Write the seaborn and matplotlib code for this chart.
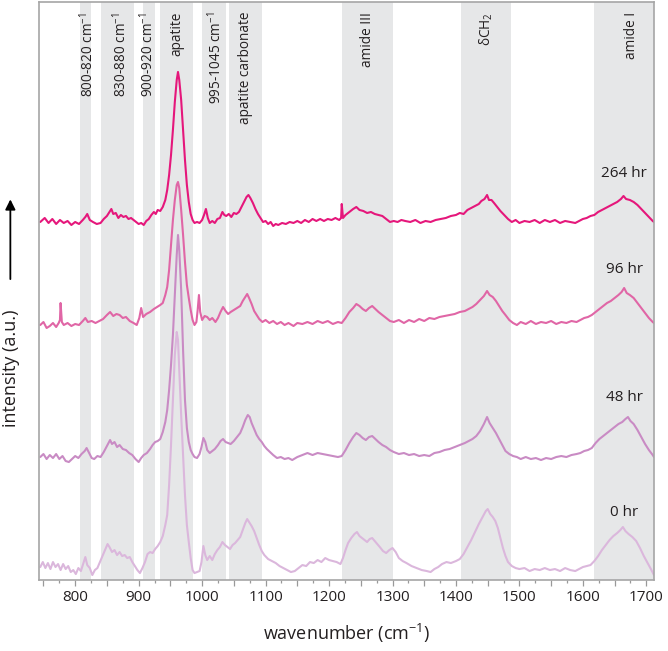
import numpy as np
import pandas as pd
import matplotlib
matplotlib.use("Agg")
import matplotlib.pyplot as plt
import seaborn as sns
from matplotlib.ticker import MultipleLocator, FuncFormatter

# -----------------------------
# Style
# -----------------------------
sns.set_style("white")
plt.rcParams["font.family"] = ["Open Sans", "DejaVu Sans"]
plt.rcParams["mathtext.fontset"] = "custom"
plt.rcParams["mathtext.rm"] = "Open Sans"
plt.rcParams["mathtext.it"] = "Open Sans:italic"
plt.rcParams["mathtext.bf"] = "Open Sans:bold"

# -----------------------------
# Data: (wavenumber, offset intensity)
# -----------------------------
spec_264 = [
    (745, 358), (752, 362), (758, 357), (764, 361), (770, 356), (776, 360), (782, 357),
    (788, 359), (794, 355), (800, 358), (806, 356), (812, 360), (816, 363), (819, 366),
    (823, 360), (828, 358), (834, 356), (840, 357), (845, 361), (850, 364), (854, 368),
    (857, 371), (860, 366), (864, 367), (868, 362), (872, 365), (876, 363), (880, 364),
    (884, 361), (888, 362), (892, 360), (896, 358), (900, 356), (904, 357), (908, 355),
    (912, 359), (916, 361), (920, 365), (924, 368), (927, 366), (930, 370), (934, 369),
    (938, 373), (942, 380), (945, 390), (948, 405), (951, 425), (954, 450), (957, 478),
    (960, 500), (962, 508), (964, 500), (967, 480), (970, 450), (973, 420), (976, 395),
    (979, 378), (982, 366), (985, 360), (988, 357), (992, 358), (996, 357), (1000, 360),
    (1003, 365), (1006, 371), (1009, 362), (1012, 357), (1016, 359), (1020, 357),
    (1024, 361), (1028, 362), (1032, 368), (1035, 365), (1038, 364), (1042, 366),
    (1046, 363), (1050, 367), (1054, 366), (1058, 368), (1062, 373), (1066, 378),
    (1070, 383), (1073, 385), (1076, 382), (1080, 377), (1084, 371), (1088, 366),
    (1092, 362), (1096, 358), (1100, 359), (1104, 356), (1108, 358), (1112, 354),
    (1116, 356), (1120, 355), (1126, 357), (1132, 356), (1138, 358), (1144, 357),
    (1150, 359), (1156, 357), (1162, 360), (1168, 358), (1174, 361), (1180, 359),
    (1186, 361), (1192, 359), (1198, 361), (1204, 360), (1210, 362), (1216, 360),
    (1219, 362), (1220, 376), (1222, 362), (1226, 365), (1232, 368), (1238, 371),
    (1243, 373), (1248, 370), (1254, 369), (1260, 367), (1266, 368), (1272, 366),
    (1278, 365), (1284, 364), (1290, 361), (1296, 358), (1302, 359), (1308, 358),
    (1314, 360), (1320, 359), (1328, 358), (1336, 360), (1344, 357), (1352, 359),
    (1360, 358), (1368, 360), (1376, 361), (1384, 362), (1392, 364), (1400, 365),
    (1406, 367), (1412, 366), (1418, 370), (1424, 372), (1430, 374), (1436, 376),
    (1440, 379), (1445, 381), (1449, 385), (1452, 380), (1456, 380), (1460, 377),
    (1465, 373), (1470, 369), (1476, 365), (1482, 361), (1488, 358), (1494, 360),
    (1500, 357), (1508, 359), (1516, 358), (1524, 360), (1532, 357), (1540, 360),
    (1548, 358), (1556, 360), (1564, 357), (1572, 359), (1580, 358), (1588, 357),
    (1594, 359), (1600, 361), (1606, 362), (1612, 364), (1618, 365), (1624, 368),
    (1630, 370), (1636, 372), (1642, 374), (1648, 376), (1654, 378), (1660, 381),
    (1664, 384), (1668, 381), (1674, 380), (1680, 378), (1686, 375), (1692, 371),
    (1698, 367), (1704, 363), (1710, 359), (1712, 358),
]

spec_96 = [
    (745, 255), (750, 258), (755, 252), (760, 254), (765, 257), (770, 253), (774, 257),
    (776, 260), (777, 277), (779, 258), (782, 255), (788, 257), (794, 254), (800, 256),
    (806, 255), (812, 259), (816, 262), (820, 258), (826, 259), (832, 257), (838, 259),
    (844, 261), (850, 265), (855, 268), (860, 264), (865, 266), (870, 265), (875, 262),
    (880, 263), (886, 259), (892, 257), (897, 255), (901, 262), (904, 272), (907, 263),
    (912, 266), (918, 268), (924, 271), (929, 273), (934, 275), (938, 277), (942, 285),
    (945, 293), (948, 310), (951, 335), (954, 360), (957, 380), (960, 395), (962, 398),
    (964, 392), (967, 370), (970, 345), (973, 318), (976, 295), (979, 282), (982, 270),
    (985, 260), (988, 255), (991, 258), (993, 270), (995, 285), (997, 268), (1000, 260),
    (1004, 264), (1008, 263), (1012, 260), (1016, 262), (1021, 258), (1025, 262),
    (1029, 268), (1033, 273), (1037, 269), (1041, 266), (1045, 268), (1050, 270),
    (1055, 272), (1060, 274), (1064, 279), (1068, 283), (1071, 286), (1074, 282),
    (1078, 276), (1082, 269), (1086, 265), (1090, 261), (1095, 258), (1100, 260),
    (1106, 257), (1112, 259), (1118, 256), (1124, 258), (1130, 255), (1136, 257),
    (1144, 254), (1150, 257), (1158, 256), (1166, 258), (1174, 256), (1182, 259),
    (1190, 257), (1198, 259), (1206, 256), (1214, 258), (1220, 257), (1226, 262),
    (1232, 268), (1238, 272), (1243, 276), (1248, 274), (1253, 271), (1258, 269),
    (1263, 272), (1268, 274), (1273, 271), (1278, 268), (1284, 265), (1290, 262),
    (1296, 259), (1302, 258), (1310, 260), (1318, 257), (1326, 260), (1334, 258),
    (1342, 261), (1350, 259), (1358, 262), (1366, 261), (1374, 263), (1382, 264),
    (1390, 265), (1398, 266), (1406, 268), (1414, 269), (1420, 271), (1426, 273),
    (1432, 276), (1438, 280), (1444, 284), (1449, 289), (1453, 285), (1458, 283),
    (1463, 279), (1468, 274), (1473, 269), (1478, 265), (1484, 260), (1490, 257),
    (1496, 255), (1502, 258), (1510, 256), (1518, 259), (1526, 256), (1534, 258),
    (1542, 257), (1550, 259), (1558, 256), (1566, 258), (1574, 257), (1582, 259),
    (1590, 258), (1596, 260), (1602, 262), (1608, 263), (1614, 265), (1620, 268),
    (1626, 271), (1632, 274), (1638, 277), (1644, 279), (1650, 282), (1656, 285),
    (1661, 288), (1665, 292), (1669, 287), (1674, 285), (1680, 282), (1686, 277),
    (1692, 272), (1698, 267), (1704, 262), (1710, 258), (1712, 257),
]

spec_48 = [
    (745, 123), (750, 126), (755, 121), (760, 125), (765, 122), (770, 126), (775, 121),
    (780, 124), (785, 119), (790, 118), (795, 121), (800, 124), (805, 122), (810, 126),
    (815, 129), (818, 132), (822, 127), (826, 122), (830, 121), (835, 124), (840, 123),
    (845, 128), (850, 134), (855, 140), (858, 136), (862, 138), (866, 133), (870, 135),
    (875, 131), (880, 130), (885, 127), (890, 125), (895, 121), (900, 118), (904, 122),
    (908, 125), (913, 127), (918, 131), (922, 135), (926, 138), (930, 139), (934, 141),
    (938, 148), (942, 158), (945, 170), (948, 190), (951, 215), (954, 245), (957, 285),
    (960, 325), (962, 345), (964, 330), (967, 290), (970, 230), (973, 180), (976, 152),
    (979, 138), (982, 130), (985, 126), (988, 123), (992, 122), (996, 126), (999, 133),
    (1002, 142), (1005, 138), (1008, 130), (1012, 127), (1016, 129), (1020, 131),
    (1025, 135), (1029, 139), (1033, 141), (1037, 138), (1041, 137), (1045, 136),
    (1050, 139), (1055, 143), (1060, 147), (1064, 153), (1068, 160), (1072, 165),
    (1075, 163), (1078, 157), (1082, 151), (1086, 145), (1090, 141), (1094, 138),
    (1098, 134), (1102, 131), (1107, 128), (1112, 125), (1118, 122), (1124, 123),
    (1130, 121), (1136, 122), (1142, 120), (1150, 123), (1158, 125), (1166, 127),
    (1174, 125), (1182, 127), (1190, 126), (1198, 125), (1206, 124), (1214, 123),
    (1220, 124), (1226, 130), (1232, 137), (1238, 143), (1243, 147), (1248, 145),
    (1253, 142), (1258, 140), (1263, 143), (1268, 144), (1273, 141), (1278, 138),
    (1284, 135), (1290, 133), (1296, 130), (1302, 128), (1310, 126), (1318, 127),
    (1326, 125), (1334, 126), (1342, 124), (1350, 125), (1358, 124), (1366, 127),
    (1374, 128), (1382, 130), (1390, 131), (1398, 133), (1406, 135), (1414, 137),
    (1420, 139), (1426, 141), (1432, 144), (1438, 149), (1444, 156), (1449, 163),
    (1453, 157), (1458, 152), (1463, 147), (1468, 141), (1473, 135), (1478, 129),
    (1484, 126), (1490, 124), (1496, 123), (1502, 121), (1510, 123), (1518, 121),
    (1526, 122), (1534, 120), (1542, 122), (1550, 121), (1558, 123), (1566, 124),
    (1574, 123), (1582, 125), (1590, 126), (1596, 127), (1602, 129), (1608, 130),
    (1614, 132), (1620, 137), (1626, 141), (1632, 144), (1638, 147), (1644, 150),
    (1650, 153), (1656, 156), (1662, 158), (1667, 161), (1671, 163), (1675, 159),
    (1680, 156), (1686, 150), (1692, 143), (1698, 136), (1704, 130), (1710, 125),
    (1712, 123),
]

spec_0 = [
    (745, 13), (749, 18), (753, 12), (757, 17), (761, 11), (765, 18), (769, 13),
    (773, 16), (777, 10), (781, 16), (785, 11), (789, 14), (793, 8), (797, 10),
    (801, 6), (805, 12), (809, 9), (813, 17), (816, 23), (819, 15), (823, 12),
    (827, 5), (831, 10), (835, 12), (839, 18), (843, 24), (847, 30), (851, 36),
    (854, 33), (858, 28), (862, 30), (866, 25), (870, 28), (874, 24), (878, 25),
    (882, 22), (886, 23), (890, 18), (894, 14), (898, 10), (902, 7), (906, 12),
    (910, 18), (914, 26), (918, 28), (922, 27), (926, 31), (930, 34), (934, 38),
    (938, 44), (942, 55), (945, 65), (948, 95), (951, 135), (954, 180), (957, 225),
    (960, 248), (962, 240), (964, 210), (967, 165), (970, 125), (973, 85), (976, 55),
    (979, 38), (982, 22), (985, 10), (988, 7), (992, 8), (996, 9), (999, 18),
    (1002, 34), (1005, 25), (1008, 20), (1012, 24), (1016, 20), (1020, 26), (1024, 30),
    (1028, 33), (1032, 38), (1036, 35), (1040, 33), (1044, 31), (1048, 35), (1052, 37),
    (1056, 40), (1060, 43), (1064, 50), (1068, 57), (1071, 61), (1074, 58), (1078, 54),
    (1082, 49), (1086, 42), (1090, 35), (1094, 29), (1098, 25), (1104, 21), (1110, 19),
    (1116, 17), (1122, 14), (1128, 12), (1134, 10), (1140, 8), (1146, 9), (1152, 12),
    (1158, 15), (1164, 14), (1170, 18), (1176, 17), (1182, 20), (1188, 18), (1194, 22),
    (1200, 20), (1206, 19), (1212, 18), (1218, 16), (1222, 22), (1226, 30), (1230, 37),
    (1235, 42), (1240, 46), (1244, 48), (1248, 44), (1252, 42), (1256, 40), (1260, 38),
    (1264, 41), (1268, 42), (1272, 39), (1276, 36), (1280, 33), (1285, 29), (1290, 27),
    (1295, 30), (1300, 32), (1305, 28), (1310, 22), (1316, 19), (1322, 17), (1330, 14),
    (1338, 12), (1346, 10), (1354, 9), (1360, 8), (1366, 11), (1372, 13), (1378, 16),
    (1385, 18), (1392, 17), (1400, 19), (1406, 21), (1412, 26), (1418, 33), (1424, 40),
    (1430, 48), (1436, 56), (1442, 63), (1447, 69), (1450, 71), (1454, 66), (1458, 63),
    (1462, 59), (1466, 52), (1470, 42), (1474, 32), (1478, 24), (1482, 18), (1488, 14),
    (1494, 12), (1500, 11), (1508, 12), (1516, 9), (1524, 11), (1532, 10), (1540, 12),
    (1548, 10), (1556, 11), (1564, 9), (1572, 12), (1580, 10), (1588, 9), (1594, 11),
    (1600, 13), (1606, 14), (1612, 15), (1618, 19), (1624, 24), (1630, 30), (1636, 35),
    (1642, 40), (1648, 44), (1654, 47), (1659, 50), (1663, 53), (1667, 49), (1672, 46),
    (1678, 43), (1684, 39), (1690, 32), (1696, 24), (1702, 17), (1708, 10), (1712, 5),
]

times = ["0 hr", "48 hr", "96 hr", "264 hr"]
colors = {"0 hr": "#dbb7dc", "48 hr": "#c98bc4", "96 hr": "#e066a6", "264 hr": "#e5177b"}
label_y = {"0 hr": 68, "48 hr": 183, "96 hr": 310, "264 hr": 406}

band_lo = [808, 841, 907, 934, 1000, 1043, 1221, 1408, 1617]
band_hi = [825, 893, 926, 985, 1037, 1094, 1301, 1486, 1712]
band_labels = ["800-820 cm$^{-1}$", "830-880 cm$^{-1}$", "900-920 cm$^{-1}$", "apatite",
               "995-1045 cm$^{-1}$", "apatite carbonate", "amide III", "\u03b4CH$_2$", "amide I"]
band_label_x = [819, 871, 914, 960, 1021, 1068, 1261, 1448, 1676]

frames = []
for t, spec in zip(times, [spec_0, spec_48, spec_96, spec_264]):
    d = pd.DataFrame(spec, columns=["wavenumber", "intensity"])
    d["time"] = t
    frames.append(d)
df = pd.concat(frames, ignore_index=True)

# -----------------------------
# Plot
# -----------------------------
fig = plt.figure(figsize=(6.68, 6.51), dpi=100)
ax = fig.add_axes([0.0584, 0.109, 0.9206, 0.888])

for lo, hi in zip(band_lo, band_hi):
    ax.axvspan(lo, hi, color="#e6e7e8", lw=0, zorder=0)

sns.lineplot(data=df, x="wavenumber", y="intensity", hue="time", hue_order=times,
             palette=colors, estimator=None, sort=False, lw=1.5, legend=False, ax=ax)

ax.set_xlim(743, 1712)
ax.set_ylim(0, 578)

for txt, x in zip(band_labels, band_label_x):
    ax.text(x, 0.983, txt, transform=ax.get_xaxis_transform(), rotation=90,
            ha="center", va="top", fontsize=9.8, color="#231f20")

for t in times:
    ax.text(1665, label_y[t], t, ha="center", va="center", fontsize=11, color="#231f20")

# axes / ticks
ax.xaxis.set_major_locator(MultipleLocator(50))
ax.xaxis.set_minor_locator(MultipleLocator(25))
ax.xaxis.set_major_formatter(FuncFormatter(lambda v, p: f"{int(v)}" if v % 100 == 0 else ""))
ax.tick_params(axis="x", which="both", bottom=True, direction="out", color="#999999",
               width=0.9, labelsize=11, pad=3, labelcolor="#231f20")
ax.tick_params(axis="x", which="major", length=4.5)
ax.tick_params(axis="x", which="minor", length=2.5)
ax.set_yticks([])
ax.set_ylabel("")
ax.set_xlabel("wavenumber (cm$^{-1}$)", fontsize=13, labelpad=12, color="#231f20")

for s in ax.spines.values():
    s.set_color("#a6a6a6")
    s.set_linewidth(1.2)

fig.text(0.0165, 0.435, "intensity (a.u.)", rotation=90, ha="center", va="center",
         fontsize=13, color="#231f20")
ax.annotate("", xy=(0.0155, 0.698), xycoords=fig.transFigure,
            xytext=(0.0155, 0.567), textcoords=fig.transFigure,
            arrowprops=dict(arrowstyle="-|>", color="black", lw=1.3, mutation_scale=15),
            annotation_clip=False)

fig.savefig("out.png", dpi=100)
